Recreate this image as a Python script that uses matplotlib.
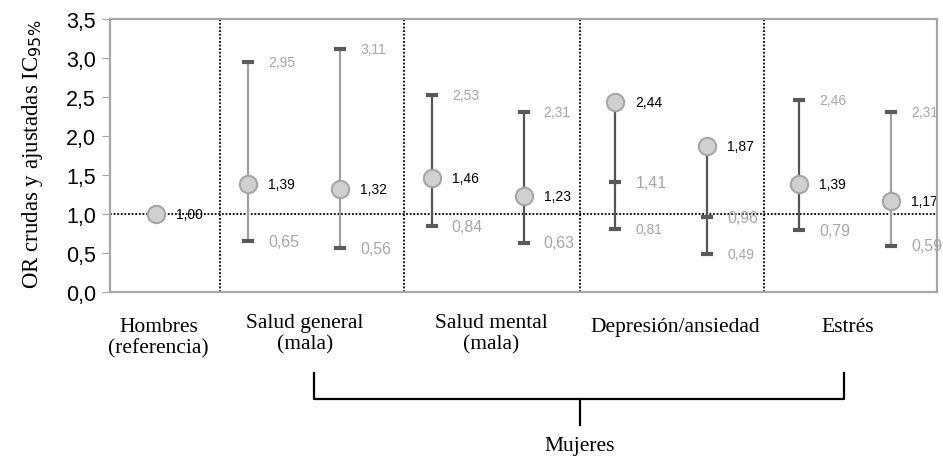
import numpy as np
import matplotlib
matplotlib.use("Agg")
import matplotlib.pyplot as plt

# ---- datos ----
puntos = ["Hombres", "SG1", "SG2", "SM1", "SM2", "DA1", "DA2", "E1", "E2"]
or_vals = [1.00, 1.39, 1.32, 1.46, 1.23, 2.44, 1.87, 1.39, 1.17]
ic_sup = [None, 2.95, 3.11, 2.53, 2.31, 0.81, 0.49, 2.46, 2.31]
ic_inf = [None, 0.65, 0.56, 0.84, 0.63, 1.41, 0.96, 0.79, 0.59]
categorias = ["Hombres\n(referencia)", "Salud general\n(mala)", "Salud mental\n(mala)",
              "Depresión/ansiedad", "Estrés"]
yticks = [0.0, 0.5, 1.0, 1.5, 2.0, 2.5, 3.0, 3.5]

# ---- estilo ----
cat_x = [0.03, 1.62, 3.65, 5.65, 7.53]
cat_y = [-0.58, -0.53, -0.53, -0.44, -0.44]
divisores = [0.70, 2.70, 4.62, 6.62]
linea_col = ["#7f7f7f", "#a0a0a0", "#a0a0a0", "#555555", "#555555",
             "#555555", "#555555", "#555555", "#a0a0a0"]
gris = "#a6a6a6"
serif = ["Liberation Serif", "DejaVu Serif"]
plt.rcParams["font.family"] = ["Liberation Sans", "DejaVu Sans"]


def fmt(v):
    return f"{v:.2f}".replace(".", ",")


fig = plt.figure(figsize=(9.43, 4.6), dpi=100)
ax = fig.add_axes([110 / 943, 167 / 460, 827 / 943, 273 / 460])
x = np.arange(len(puntos))

for i in x:
    vals = [v for v in (or_vals[i], ic_sup[i], ic_inf[i]) if v is not None]
    if len(vals) > 1:
        ax.plot([i, i], [min(vals), max(vals)], color=linea_col[i], lw=1.6, zorder=2,
                solid_capstyle="butt")
        ax.plot([i, i], [ic_sup[i], ic_inf[i]], ls="none", marker="_", ms=8, mew=3,
                color="#595959", zorder=3)
        ax.text(i + 0.22, ic_sup[i], fmt(ic_sup[i]), color=gris, fontsize=10,
                ha="left", va="center")
        ax.text(i + 0.22, ic_inf[i], fmt(ic_inf[i]), color=gris, fontsize=11.5,
                ha="left", va="center")
    ax.text(i + 0.22, or_vals[i], fmt(or_vals[i]), color="black", fontsize=10,
            ha="left", va="center", zorder=1)

ax.plot(x, or_vals, ls="none", marker="o", ms=12.5, mfc="#d0d0d0", mec="#a6a6a6",
        mew=1.5, zorder=4)

ax.axhline(1.0, color="black", ls=(0, (1, 1)), lw=1.3, zorder=1.5)
for d in divisores:
    ax.axvline(d, color="black", ls=(0, (1, 1)), lw=1.3, zorder=1.5)

ax.set_xlim(-0.5, 8.5)
ax.set_ylim(0, 3.5)
ax.set_xticks([])
ax.set_yticks(yticks)
ax.set_yticklabels([f"{t:.1f}".replace(".", ",") for t in yticks], fontsize=15.5)
ax.tick_params(axis="y", length=6, color="#a6a6a6", pad=4)
for s in ax.spines.values():
    s.set_color("#a6a6a6")
    s.set_linewidth(1.6)

ax.set_ylabel("OR crudas y ajustadas IC$_{95\\%}$", family=serif, fontsize=16.5)
ax.yaxis.set_label_coords(-0.078, 0.51)

for cx, cy, lab in zip(cat_x, cat_y, categorias):
    ax.text(cx, cy, lab, family=serif, fontsize=15.5, ha="center", va="center",
            linespacing=1.15, clip_on=False)

# llave "Mujeres"
bx = [1.72, 1.72, 4.61, 7.49, 7.49]
by = [-1.04, -1.37, -1.37, -1.37, -1.04]
ax.plot(bx[:2] + [bx[3], bx[4]], by[:2] + [by[3], by[4]], color="black", lw=1.6,
        clip_on=False, solid_joinstyle="round")
ax.plot([bx[2], bx[2]], [-1.37, -1.71], color="black", lw=1.6, clip_on=False)
ax.text(4.61, -1.97, "Mujeres", family=serif, fontsize=15.5, ha="center", va="center",
        clip_on=False)

fig.savefig("out.png", dpi=100)
